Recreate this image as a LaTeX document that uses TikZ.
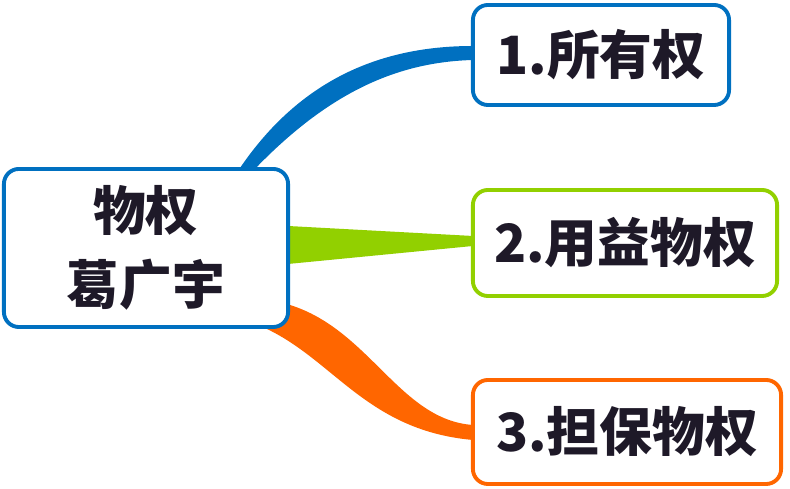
\documentclass[tikz,border=0pt]{standalone}
\usepackage{fontspec}
\newfontfamily\cjk{Noto Sans CJK SC}
\usetikzlibrary{positioning}
\definecolor{mblue}{RGB}{0,112,192}
\definecolor{mgreen}{RGB}{146,208,0}
\definecolor{morange}{RGB}{255,102,0}
\definecolor{mtext}{RGB}{30,25,40}

\begin{document}
\begin{tikzpicture}[
    x=0.01cm, y=-0.01cm,
    box/.style = {
        rectangle,
        rounded corners=0.15cm,
        draw,
        line width=1.1pt,
        fill=white,
        text=mtext,
        align=center,
        inner sep=0pt,
        font=\cjk\bfseries\fontsize{15}{21}\selectfont
    }
]
    \useasboundingbox (0,0) rectangle (790,489);

    % --- Branches ---
    \fill[mblue] (252,172) .. controls (330,90) and (400,62) .. (473,60)
        -- (473,46) .. controls (380,46) and (300,80) .. (240,168) -- cycle;
    \fill[mgreen] (288,226) -- (473,236) -- (473,246) -- (288,264) -- cycle;
    \fill[morange] (250,322) .. controls (330,350) and (360,430) .. (473,440)
        -- (473,425) .. controls (400,420) and (370,330) .. (290,305) -- cycle;

    % --- Nodes ---
    \node[box, draw=mblue, minimum width=2.84cm, minimum height=1.58cm] (root) at (146,248) {物权\\葛广宇};
    \node[box, draw=mblue, minimum width=2.56cm, minimum height=1.0cm] (own) at (601,55) {1.所有权};
    \node[box, draw=mgreen, minimum width=3.04cm, minimum height=1.06cm] (use) at (625,243) {2.用益物权};
    \node[box, draw=morange, minimum width=3.08cm, minimum height=1.04cm] (sec) at (627,432) {3.担保物权};

\end{tikzpicture}
\end{document}
